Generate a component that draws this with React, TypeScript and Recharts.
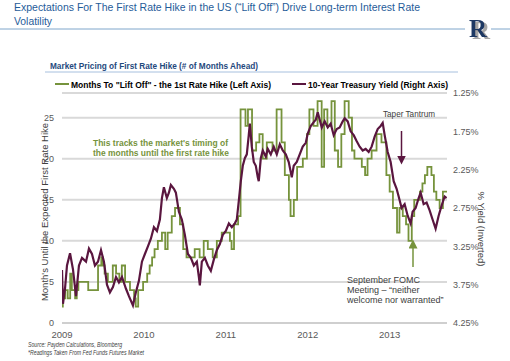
/* Lift-off months vs inverted 10Y Treasury yield. */

import { CartesianGrid, Legend, Line, LineChart, XAxis, YAxis } from "recharts";

const yearTicks = [2009, 2010, 2011, 2012, 2013];
const monthTicks = [0, 5, 10, 15, 20, 25];
const yieldTicks = [1.25, 1.75, 2.25, 2.75, 3.25, 3.75, 4.25];
const seriesNames = ['Months To "Lift Off" - the 1st Rate Hike (Left Axis)', "10-Year Treasury Yield (Right Axis)"];

// months to first hike (fed funds futures), step series
const liftOffDates = [
  2009.0, 2009.01, 2009.04, 2009.07, 2009.1, 2009.12, 2009.16, 2009.18, 2009.2, 2009.32,
  2009.44, 2009.48, 2009.5, 2009.52, 2009.56, 2009.62, 2009.66, 2009.7, 2009.73, 2009.77,
  2009.83, 2009.88, 2009.9, 2009.93, 2009.99, 2010.04, 2010.07, 2010.1, 2010.13, 2010.17,
  2010.22, 2010.26, 2010.29, 2010.34, 2010.38, 2010.44, 2010.48, 2010.52, 2010.62, 2010.68,
  2010.73, 2010.78, 2010.84, 2010.89, 2010.95, 2011.05, 2011.07, 2011.1, 2011.15, 2011.18,
  2011.24, 2011.27, 2011.32, 2011.37, 2011.41, 2011.45, 2011.5, 2011.57, 2011.62, 2011.68,
  2011.72, 2011.77, 2011.79, 2011.83, 2011.87, 2011.94, 2011.99, 2012.02, 2012.07, 2012.12,
  2012.17, 2012.2, 2012.24, 2012.29, 2012.33, 2012.37, 2012.41, 2012.45, 2012.5, 2012.54,
  2012.57, 2012.66, 2012.7, 2012.73, 2012.78, 2012.84, 2012.9, 2012.96, 2013.0, 2013.04,
  2013.09, 2013.12, 2013.16, 2013.2, 2013.23, 2013.27, 2013.3, 2013.37, 2013.4, 2013.43,
  2013.46, 2013.51, 2013.54, 2013.57, 2013.61, 2013.65, 2013.7,
];
const liftOffMonths = [
  2, 3, 4, 3, 6, 4, 3, 4, 5, 4,
  7, 8, 7, 6, 5, 7, 6, 5, 7, 5,
  4, 3, 2, 4, 5, 6, 7, 8, 9, 10,
  11, 9, 11, 13, 14, 12, 9, 8, 9, 8,
  10, 9, 8, 10, 11, 10, 9, 12, 13, 26,
  24, 26, 21, 22, 23, 20, 22, 21, 26, 22,
  18, 15, 13, 15, 19, 20, 23, 26, 24, 27,
  19, 26, 24, 27, 21, 19, 23, 27, 25, 21,
  20, 19, 18, 20, 21, 23, 22, 18, 16, 14,
  11, 14, 13, 12, 10, 13, 15, 16, 17, 18,
  19, 18, 16, 15, 14, 16, 16,
];

// 10-year treasury yield, %
const yieldDates = [
  2009.0, 2009.012, 2009.037, 2009.061, 2009.098, 2009.134, 2009.171, 2009.207, 2009.244, 2009.293,
  2009.329, 2009.366, 2009.402, 2009.439, 2009.476, 2009.512, 2009.549, 2009.585, 2009.622, 2009.659,
  2009.695, 2009.732, 2009.78, 2009.817, 2009.866, 2009.902, 2009.939, 2009.976, 2010.012, 2010.049,
  2010.085, 2010.122, 2010.159, 2010.195, 2010.22, 2010.244, 2010.28, 2010.305, 2010.329, 2010.366,
  2010.39, 2010.427, 2010.463, 2010.5, 2010.537, 2010.573, 2010.61, 2010.646, 2010.671, 2010.683,
  2010.707, 2010.744, 2010.78, 2010.817, 2010.854, 2010.89, 2010.927, 2010.963, 2011.0, 2011.037,
  2011.073, 2011.11, 2011.134, 2011.159, 2011.183, 2011.207, 2011.232, 2011.256, 2011.28, 2011.293,
  2011.317, 2011.341, 2011.366, 2011.39, 2011.402, 2011.427, 2011.451, 2011.488, 2011.512, 2011.549,
  2011.585, 2011.622, 2011.659, 2011.695, 2011.732, 2011.768, 2011.805, 2011.829, 2011.866, 2011.902,
  2011.939, 2011.976, 2012.0, 2012.037, 2012.073, 2012.098, 2012.122, 2012.146, 2012.171, 2012.207,
  2012.244, 2012.28, 2012.317, 2012.354, 2012.39, 2012.427, 2012.451, 2012.488, 2012.524, 2012.561,
  2012.598, 2012.634, 2012.671, 2012.707, 2012.744, 2012.78, 2012.817, 2012.854, 2012.89, 2012.915,
  2012.939, 2012.976, 2013.012, 2013.049, 2013.085, 2013.11, 2013.146, 2013.183, 2013.22, 2013.256,
  2013.28, 2013.317, 2013.354, 2013.378, 2013.415, 2013.451, 2013.488, 2013.524, 2013.561, 2013.598,
  2013.634, 2013.671, 2013.695,
];
const yieldValues = [
  3.56, 4.0, 3.8, 3.5, 3.34, 3.55, 3.9, 3.5, 3.4, 3.45,
  3.28, 3.35, 3.5, 3.45, 3.3, 3.45, 3.75, 3.85, 3.78, 3.65,
  3.72, 3.65, 3.8, 3.9, 4.02, 3.85, 3.7, 3.45, 3.35, 3.25,
  3.15, 3.0, 3.05, 2.9, 2.62, 2.48, 2.62, 2.55, 2.45, 2.5,
  2.55, 2.8, 2.9, 3.1, 3.35, 3.4, 3.5, 3.45, 3.65, 3.76,
  3.45, 3.4, 3.5, 3.57, 3.42, 3.3, 3.22, 3.1, 3.05, 2.95,
  3.0, 2.95, 2.9, 2.65, 2.4, 2.2, 2.1, 2.05, 1.8, 1.65,
  1.95, 2.15, 2.2, 2.35, 2.4, 2.1, 2.0, 2.08, 1.98, 2.05,
  1.95, 2.05, 1.92, 2.0, 2.05, 2.15, 2.35, 2.2, 2.15, 2.05,
  1.95, 1.9, 1.78, 1.68, 1.63, 1.6, 1.5, 1.6, 1.7, 1.62,
  1.7, 1.65, 1.8, 1.72, 1.7, 1.62, 1.58, 1.62, 1.75, 1.8,
  1.88, 1.95, 2.0, 1.98, 2.02, 1.95, 1.82, 1.72, 1.68, 1.64,
  1.8, 2.02, 2.15, 2.4, 2.5, 2.6, 2.75, 2.7, 2.85, 2.95,
  2.8, 2.75, 2.62, 2.55, 2.7, 2.68, 2.78, 2.9, 3.02, 2.85,
  2.72, 2.6, 2.62,
];

const liftOff = liftOffDates.map((t, i) => ({ t, months: liftOffMonths[i] }));
const treasury = yieldDates.map((t, i) => ({ t, yld: yieldValues[i] }));

const GREEN = "#76933C";
const MAROON = "#5A163F";
const FONT = '"Liberation Sans", Arial, sans-serif';
const tickStyle = { fontSize: 9, fill: "#595959", fontFamily: FONT };

// legend drawn as svg so each label can be fitted to its width
function LegendBox({ payload }: any) {
  const items = (payload || []).slice().sort((a: any, b: any) => seriesNames.indexOf(a.value) - seriesNames.indexOf(b.value));
  const starts = [0, 237];
  const widths = [200, 140];
  return (
    <svg width={400} height={14} fontFamily={FONT}>
      {items.map((p: any, i: number) => (
        <g key={p.value} transform={`translate(${starts[i]},0)`}>
          <line x1={0} y1={6} x2={14} y2={6} stroke={p.color} strokeWidth={2} />
          <text x={16} y={9.5} fontSize={8.5} fontWeight={700} fill="#000" textLength={widths[i]} lengthAdjust="spacingAndGlyphs">
            {p.value}
          </text>
        </g>
      ))}
    </svg>
  );
}

export default function App() {
  return (
    <div style={{ position: "absolute", left: 0, top: 0, width: 510, height: 361, background: "#fff" }}>
      <LineChart width={510} height={361} data={liftOff} margin={{ top: 93, right: 23, bottom: 18, left: 22 }}>
        <CartesianGrid vertical={false} yAxisId="left" stroke="#D9D9D9" strokeWidth={2} />
        <XAxis
          dataKey="t"
          type="number"
          domain={[2009, 2013.7]}
          ticks={yearTicks}
          allowDataOverflow
          tickLine={false}
          axisLine={{ stroke: "#CFCFCF", strokeWidth: 2 }}
          tick={{ ...tickStyle, fontSize: 9.5 }}
          tickMargin={2}
          height={20}
        />
        <YAxis
          yAxisId="left"
          domain={[0, 28]}
          ticks={monthTicks}
          allowDataOverflow
          axisLine={false}
          tickLine={false}
          tick={tickStyle}
          width={40}
        />
        <YAxis
          yAxisId="right"
          orientation="right"
          reversed
          domain={[1.25, 4.25]}
          ticks={yieldTicks}
          allowDataOverflow
          axisLine={false}
          tickLine={false}
          tick={tickStyle}
          tickMargin={0}
          tickFormatter={(v: number) => v.toFixed(2) + "%"}
          width={40}
        />
        <Legend
          layout="horizontal"
          verticalAlign="middle"
          align="center"
          wrapperStyle={{ top: 78, left: 55, width: 400 }}
          content={<LegendBox />}
        />
        <Line
          data={liftOff}
          yAxisId="left"
          dataKey="months"
          name={seriesNames[0]}
          type="stepAfter"
          stroke={GREEN}
          strokeWidth={1.8}
          dot={false}
          isAnimationActive={false}
        />
        <Line
          data={treasury}
          yAxisId="right"
          dataKey="yld"
          name={seriesNames[1]}
          type="linear"
          stroke={MAROON}
          strokeWidth={2.2}
          dot={false}
          isAnimationActive={false}
        />
      </LineChart>

      <svg width={510} height={361} style={{ position: "absolute", left: 0, top: 0, pointerEvents: "none" }} fontFamily={FONT}>
        <defs>
          <marker id="ahM" markerWidth="6" markerHeight="6" refX="3" refY="3" orient="auto">
            <path d="M0,0 L6,3 L0,6 Z" fill={MAROON} />
          </marker>
          <marker id="ahG" markerWidth="6" markerHeight="6" refX="3" refY="3" orient="auto">
            <path d="M0,0 L6,3 L0,6 Z" fill={GREEN} />
          </marker>
          <filter id="logoShadow" x="-20%" y="-20%" width="160%" height="160%">
            <feDropShadow dx="3" dy="2" stdDeviation="0" floodColor="#A6A6A6" />
          </filter>
        </defs>
        <text x={14} y={11} fontSize={10.5} fill="#1F5C99" textLength={406} lengthAdjust="spacingAndGlyphs">
          Expectations For The First Rate Hike in the US (“Lift Off”) Drive Long-term Interest Rate
        </text>
        <text x={14} y={25} fontSize={10.5} fill="#1F5C99" textLength={38} lengthAdjust="spacingAndGlyphs">
          Volatility
        </text>
        <line x1={0} y1={29} x2={465} y2={29} stroke="#7FA6CB" strokeWidth={1} />
        <line x1={491} y1={29} x2={510} y2={29} stroke="#7FA6CB" strokeWidth={1} />
        <text x={469} y={37} fontSize={25} fontFamily='"Liberation Serif", serif' fontWeight={700} fill="#1F3864" filter="url(#logoShadow)">
          R
        </text>

        <text x={50} y={69} fontSize={9.5} fontWeight={700} fill="#1F497D" textLength={208} lengthAdjust="spacingAndGlyphs">
          Market Pricing of First Rate Hike (# of Months Ahead)
        </text>
        <line x1={45} y1={72} x2={458} y2={72} stroke="#A7C0DE" strokeWidth={1} />

        <text x={93} y={146} fontSize={9} fontWeight={700} fill={GREEN} textLength={135} lengthAdjust="spacingAndGlyphs">
          This tracks the market's timing of
        </text>
        <text x={93} y={156} fontSize={9} fontWeight={700} fill={GREEN} textLength={136} lengthAdjust="spacingAndGlyphs">
          the months until the first rate hike
        </text>

        <text x={383} y={117} fontSize={9} fill="#404040" textLength={52} lengthAdjust="spacingAndGlyphs">Taper Tantrum</text>
        <line x1={401.5} y1={131} x2={401.5} y2={160} stroke={MAROON} strokeWidth={1.5} markerEnd="url(#ahM)" />
        <line x1={413} y1={267} x2={413} y2={244} stroke={GREEN} strokeWidth={1.5} markerEnd="url(#ahG)" />

        <text fontSize={9} fill="#404040">
          <tspan x={347} y={283}>September FOMC</tspan>
          <tspan x={347} y={293}>Meeting – “neither</tspan>
          <tspan x={347} y={303}>welcome nor warranted”</tspan>
        </text>

        <text x={45} y={212} fontSize={9.5} fill="#404040" textAnchor="middle" transform="rotate(-90 45 212)" dominantBaseline="middle">
          Month's Until the Expected First Rate Hike
        </text>
        <text x={481} y={229} fontSize={9.5} fill="#404040" textAnchor="middle" transform="rotate(90 481 229)" dominantBaseline="middle">
          % Yield (Inverted)
        </text>

        <text x={28} y={347} fontSize={6.5} fontStyle="italic" fill="#404040" textLength={94} lengthAdjust="spacingAndGlyphs">
          Source: Payden Calculations, Bloomberg
        </text>
        <text x={28} y={355} fontSize={6.5} fontStyle="italic" fill="#404040" textLength={116} lengthAdjust="spacingAndGlyphs">
          *Readings Taken From Fed Funds Futures Market
        </text>
      </svg>
    </div>
  );
}
